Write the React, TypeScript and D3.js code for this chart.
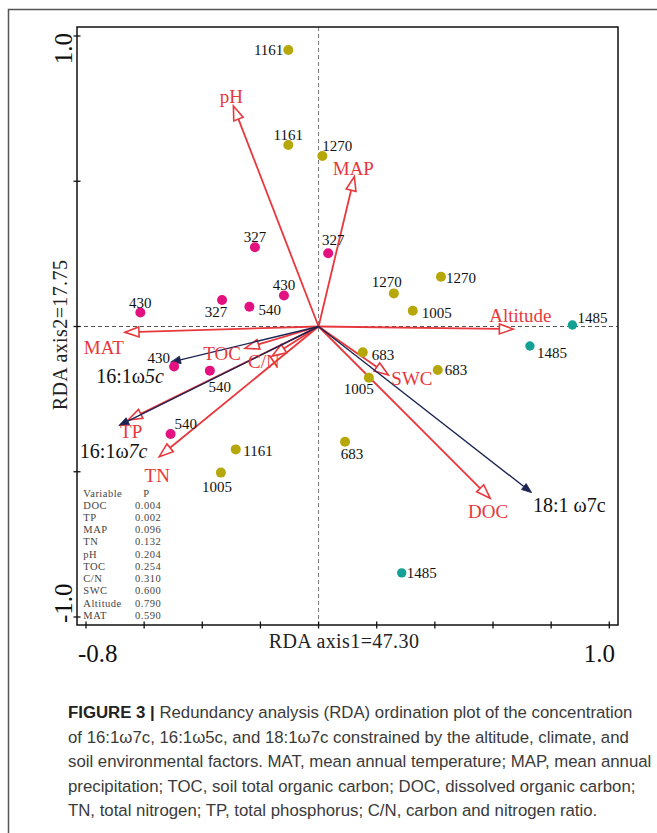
import React from "react";
import * as d3 from "d3";

// ---------- data ----------
const siteNames = ["1161","1161","1270","327","327","430","327","540","430","430","540","540","1270","1270","1005","683","683","1005","683","1161","1005","1485","1485","1485"];
const siteX = [-0.104,-0.104,0.013,-0.219,0.033,-0.119,-0.332,-0.238,-0.613,-0.497,-0.374,-0.509,0.259,0.421,0.324,0.152,0.410,0.173,0.091,-0.285,-0.336,0.873,0.727,0.286];
const siteY = [0.952,0.625,0.587,0.273,0.252,0.107,0.091,0.068,0.048,-0.138,-0.152,-0.370,0.114,0.171,0.054,-0.089,-0.150,-0.176,-0.397,-0.423,-0.503,0.005,-0.067,-0.848];

const envNames = ["pH","MAP","Altitude","MAT","TOC","C/N","TP","TN","SWC","DOC"];
const envX = [-0.293,0.123,0.670,-0.666,-0.253,-0.160,-0.655,-0.548,0.240,0.590];
const envY = [0.759,0.516,-0.009,-0.020,-0.075,-0.102,-0.322,-0.448,-0.167,-0.591];

const speciesNames = ["16:1ω5c","16:1ω7c","18:1 ω7c"];
const speciesX = [-0.509,-0.687,0.733];
const speciesY = [-0.123,-0.341,-0.572];

const legendVars = ["DOC","TP","MAP","TN","pH","TOC","C/N","SWC","Altitude","MAT"];
const legendP = ["0.004","0.002","0.096","0.132","0.204","0.254","0.310","0.600","0.790","0.590"];

const xTickValues = [-0.8,-0.6,-0.4,-0.2,0,0.2,0.4,0.6,0.8,1.0];
const yTickValues = [-1.0,-0.5,0,0.5,1.0];
const xTickLabels = ["-0.8","1.0"];
const yTickLabels = ["-1.0","1.0"];

const xTitle = "RDA axis1=47.30";
const yTitle = "RDA axis2=17.75";

const captionLines = [
  "Redundancy analysis (RDA) ordination plot of the concentration",
  "of 16:1ω7c, 16:1ω5c, and 18:1ω7c constrained by the altitude, climate, and",
  "soil environmental factors. MAT, mean annual temperature; MAP, mean annual",
  "precipitation; TOC, soil total organic carbon; DOC, dissolved organic carbon;",
  "TN, total nitrogen; TP, total phosphorus; C/N, carbon and nitrogen ratio.",
];

// ---------- layout ----------
const siteLabelPos: [number, number, string][] = [
  [-5,5,"end"],[0,-5,"middle"],[0,-5,"start"],[0,-5,"middle"],[5,-8,"middle"],[0,-5,"middle"],
  [-6,17,"middle"],[9,8,"start"],[0,-5,"middle"],[-4,-4,"end"],[10,21,"middle"],[4,-5,"start"],
  [-7,-6,"middle"],[5,6,"start"],[9,7,"start"],[9,8,"start"],[7,5,"start"],[-10,16,"middle"],
  [7,17,"middle"],[7.6,7,"start"],[-4,19,"middle"],[5,-2,"start"],[7,12,"start"],[5,5,"start"],
];
const envLabelPos: [number, number, string][] = [
  [-2,-3,"middle"],[-1,-2,"middle"],[7,-7.5,"middle"],[-1,22,"end"],[-4,12,"end"],
  [-24,12,"start"],[3,18,"middle"],[-2,25,"middle"],[3,10,"start"],[-2,20,"middle"],
];
const speciesLabelPos: [number, number, string][] = [
  [-6.7,21,"end"],[-39,32,"start"],[1.3,19.3,"start"],
];

const W = 657, H = 833;
const frame = { left: 77, right: 618, top: 27, bottom: 625 };
const RED = "#e8383d";
const NAVY = "#1c2452";
const serif = "'Liberation Serif', 'Times New Roman', serif";

function groupColor(name: string) {
  const v = +name;
  if (v < 600) return "#e3117f";
  if (v > 1400) return "#14a094";
  return "#b6a70b";
}

function arrowHead(x0: number, y0: number, x1: number, y1: number, L: number, w: number) {
  const dx = x1 - x0, dy = y1 - y0;
  const len = Math.hypot(dx, dy);
  const ux = dx / len, uy = dy / len;
  const nx = -uy, ny = ux;
  const bx = x1 - ux * L, by = y1 - uy * L;
  return {
    pts: `${x1},${y1} ${bx + nx * w},${by + ny * w} ${bx - nx * w},${by - ny * w}`,
    bx, by,
  };
}

export default function App() {
  const sx = d3.scaleLinear().domain([-0.8, 1.0]).range([86, 609.3]);
  const sy = d3.scaleLinear().domain([-1.0, 1.0]).range([617, 36]);
  const ox = sx(0), oy = sy(0);

  const speciesLabel = (name: string) => {
    const m = name.match(/^(16:1ω)(\d+c)$/);
    if (m) return (<>{m[1]}<tspan fontStyle="italic">{m[2]}</tspan></>);
    return name;
  };

  return (
    <svg width={W} height={H} style={{ position: "absolute", left: 0, top: 0, background: "#fff" }}>
      <rect x={0} y={0} width={W} height={H} fill="#fff" />
      {/* outer frame */}
      <polyline points={`8.5,${H} 8.5,9.5 ${W},9.5`} fill="none" stroke="#555" strokeWidth={1.5} />

      {/* zero lines */}
      <line x1={frame.left} x2={frame.right} y1={oy} y2={oy} stroke="#555" strokeWidth={1} strokeDasharray="4,3" />
      <line x1={ox} x2={ox} y1={frame.top} y2={frame.bottom} stroke="#777" strokeWidth={1} strokeDasharray="4,3" />

      {/* plot frame */}
      <rect x={frame.left} y={frame.top} width={frame.right - frame.left} height={frame.bottom - frame.top}
        fill="none" stroke="#111" strokeWidth={1.5} />
      {xTickValues.map((v, i) => (
        <line key={"xt" + i} x1={sx(v)} x2={sx(v)} y1={frame.bottom - 3.5} y2={frame.bottom + 3.5} stroke="#111" strokeWidth={1.3} />
      ))}
      {yTickValues.map((v, i) => (
        <line key={"yt" + i} x1={frame.left - 3.5} x2={frame.left + 3.5} y1={sy(v)} y2={sy(v)} stroke="#111" strokeWidth={1.3} />
      ))}
      <text x={78} y={662} fontFamily={serif} fontSize={25} fill="#111">{xTickLabels[0]}</text>
      <text x={615} y={662} fontFamily={serif} fontSize={25} fill="#111" textAnchor="end">{xTickLabels[1]}</text>
      <text transform={`translate(72,623) rotate(-90)`} fontFamily={serif} fontSize={25} fill="#111" textAnchor="start">{yTickLabels[0]}</text>
      <text transform={`translate(72,33) rotate(-90)`} fontFamily={serif} fontSize={25} fill="#111" textAnchor="end">{yTickLabels[1]}</text>

      <text x={344} y={648} fontFamily={serif} fontSize={20} letterSpacing={0.4} fill="#222" textAnchor="middle">{xTitle}</text>
      <text transform={`translate(67,335) rotate(-90)`} fontFamily={serif} fontSize={20} letterSpacing={0.4} fill="#222" textAnchor="middle">{yTitle}</text>

      {/* environmental arrows */}
      {envNames.map((n, i) => {
        const tx = sx(envX[i]), ty = sy(envY[i]);
        const h = arrowHead(ox, oy, tx, ty, 14, 5);
        return (
          <g key={"env" + i}>
            <line x1={ox} y1={oy} x2={h.bx} y2={h.by} stroke={RED} strokeWidth={1.8} />
            <polygon points={h.pts} fill="#fff" stroke={RED} strokeWidth={1.6} strokeLinejoin="miter" />
          </g>
        );
      })}
      {/* species arrows */}
      {speciesNames.map((n, i) => {
        const tx = sx(speciesX[i]), ty = sy(speciesY[i]);
        const h = arrowHead(ox, oy, tx, ty, 10, 3.8);
        return (
          <g key={"sp" + i}>
            <line x1={ox} y1={oy} x2={h.bx} y2={h.by} stroke={NAVY} strokeWidth={1.4} />
            <polygon points={h.pts} fill={NAVY} stroke={NAVY} strokeWidth={0.8} />
          </g>
        );
      })}

      {/* sites */}
      {siteNames.map((n, i) => (
        <circle key={"s" + i} cx={sx(siteX[i])} cy={sy(siteY[i])} r={n === "1485" ? 4.7 : 5} fill={groupColor(n)} />
      ))}
      {siteNames.map((n, i) => {
        const [dx, dy, anchor] = siteLabelPos[i];
        return (
          <text key={"sl" + i} x={sx(siteX[i]) + dx} y={sy(siteY[i]) + dy} fontFamily={serif} fontSize={15}
            fill="#111" textAnchor={anchor as any}>{n}</text>
        );
      })}

      {/* env labels */}
      {envNames.map((n, i) => {
        const [dx, dy, anchor] = envLabelPos[i];
        return (
          <text key={"el" + i} x={sx(envX[i]) + dx} y={sy(envY[i]) + dy} fontFamily={serif} fontSize={19}
            fill={RED} textAnchor={anchor as any}>{n}</text>
        );
      })}
      {/* species labels */}
      {speciesNames.map((n, i) => {
        const [dx, dy, anchor] = speciesLabelPos[i];
        return (
          <text key={"spl" + i} x={sx(speciesX[i]) + dx} y={sy(speciesY[i]) + dy} fontFamily={serif} fontSize={20}
            fill="#111" textAnchor={anchor as any}>{speciesLabel(n)}</text>
        );
      })}

      {/* P-value table */}
      <g fontFamily={serif} fontSize={10.5} fill="#444" letterSpacing={0.5}>
        <text x={83.3} y={496.7}>Variable</text>
        <text x={143.3} y={496.7}>P</text>
        {legendVars.map((v, i) => (
          <g key={"lg" + i}>
            <text x={83.3} y={508.6 + i * 12.27}>{v}</text>
            <text x={135} y={508.6 + i * 12.27}>{legendP[i]}</text>
          </g>
        ))}
      </g>

      {/* caption */}
      <g fontFamily="'Liberation Sans', Arial, sans-serif" fontSize={16.8} fill="#3a3a3a">
        {captionLines.map((line, i) => (
          <text key={"cap" + i} x={68} y={718 + i * 24.5}>
            {i === 0 ? (<><tspan fontWeight="bold" fill="#222">FIGURE 3 | </tspan>{line}</>) : line}
          </text>
        ))}
      </g>
    </svg>
  );
}
